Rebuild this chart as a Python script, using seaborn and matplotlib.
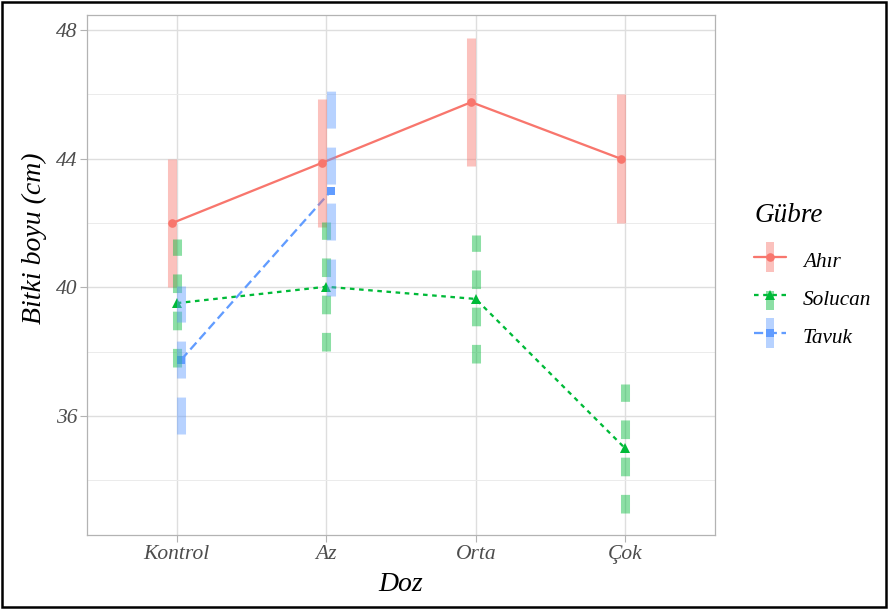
import numpy as np
import pandas as pd
import matplotlib
matplotlib.use("Agg")
import matplotlib.pyplot as plt
from matplotlib.lines import Line2D
from matplotlib.path import Path
from matplotlib.patches import Rectangle
from matplotlib.legend_handler import HandlerTuple
from matplotlib.colors import to_rgba
import seaborn as sns

# ---------------- data ----------------
doz = ["Kontrol", "Az", "Orta", "Çok"]
gubre = ["Ahır", "Solucan", "Tavuk"]

ahir_mean = [42.0, 43.87, 45.76, 44.0]
ahir_err = [2.0, 2.0, 2.0, 2.0]

solucan_mean = [39.51, 40.02, 39.64, 34.99]
solucan_err = [2.0, 2.0, 1.98, 2.0]

tavuk_doz = ["Kontrol", "Az"]
tavuk_mean = [37.75, 42.99]
tavuk_err = [2.3, 3.25]

y_ticks = [36, 40, 44, 48]
y_minor = [34, 38, 42, 46]

colors = ["#F8766D", "#00BA38", "#619CFF"]

# ---------------- table ----------------
rows = []
for d, m, e in zip(doz, ahir_mean, ahir_err):
    rows.append({"Doz": d, "Gübre": "Ahır", "Boy": m, "Hata": e})
for d, m, e in zip(doz, solucan_mean, solucan_err):
    rows.append({"Doz": d, "Gübre": "Solucan", "Boy": m, "Hata": e})
for d, m, e in zip(tavuk_doz, tavuk_mean, tavuk_err):
    rows.append({"Doz": d, "Gübre": "Tavuk", "Boy": m, "Hata": e})
df = pd.DataFrame(rows)

# ---------------- style ----------------
sns.set_theme(style="whitegrid")
plt.rcParams["font.family"] = ["Liberation Serif", "DejaVu Serif"]
plt.rcParams["font.style"] = "italic"
plt.rcParams["lines.scale_dashes"] = False

W, H = 889, 612
fig = plt.figure(figsize=(W / 100, H / 100), dpi=100, facecolor="white")
ax = fig.add_axes([87 / W, 1 - 535 / H, (715 - 87) / W, (535 - 15) / H])
ax.set_facecolor("white")

line_styles = ["-", (0, (3.3, 3.3)), (0, (6.6, 3.3))]
bar_styles = ["solid", (0, (13.4, 13.4)), (0, (26.6, 13.7))]
markers = ["o", "^", "s"]
marker_sizes = {"o": 6.2, "^": 7.6, "s": 5.8}
dodge = 0.06

sns.pointplot(data=df, x="Doz", y="Boy", hue="Gübre", order=doz,
              hue_order=gubre, palette=colors, markers=markers,
              linestyles=line_styles, dodge=dodge, errorbar=None,
              legend=False, ax=ax, linewidth=1.65, markersize=6,
              markeredgewidth=0)

for ln in ax.lines:
    mk = ln.get_marker()
    if mk in marker_sizes:
        ln.set_markersize(marker_sizes[mk])
    ln.set_zorder(2)

# error bars (drawn on top, translucent, with linetypes)
offsets = np.linspace(-dodge / 2, dodge / 2, len(gubre))
for i, g in enumerate(gubre):
    sub = df[df["Gübre"] == g]
    xs = [doz.index(d) + offsets[i] for d in sub["Doz"]]
    lo = (sub["Boy"] - sub["Hata"]).values
    hi = (sub["Boy"] + sub["Hata"]).values
    ax.vlines(xs, lo, hi, colors=[to_rgba(colors[i], 0.45)],
              linewidth=6.5, linestyles=bar_styles[i], zorder=3,
              capstyle="butt")

# ---------------- axes ----------------
ax.set_xlim(-0.6, 3.6)
ax.set_ylim(32.3, 48.47)
ax.set_yticks(y_ticks)
ax.set_yticks(y_minor, minor=True)
ax.set_axisbelow(True)
ax.xaxis.grid(True, color="#DEDEDE", linewidth=1.0)
ax.yaxis.grid(True, which="major", color="#DEDEDE", linewidth=1.0)
ax.yaxis.grid(True, which="minor", color="#EBEBEB", linewidth=0.7)
for s in ax.spines.values():
    s.set_color("#B3B3B3")
    s.set_linewidth(0.9)
ax.tick_params(axis="both", which="major", length=5, width=0.8,
               color="#B3B3B3", labelcolor="#4D4D4D", labelsize=15.5,
               pad=2, bottom=True, left=True)
ax.tick_params(axis="y", which="minor", length=0, left=False)

ax.set_xlabel("Doz", fontsize=20, color="black", va="top")
ax.xaxis.set_label_coords(0.5, -0.072)
ax.set_ylabel("Bitki boyu (cm)", fontsize=20, color="black")
ax.yaxis.set_label_coords(-0.063, 0.57)

# ---------------- legend ----------------
def bar_marker(top):
    w = 0.31
    verts = [(-w, -1), (w, -1), (w, top), (-w, top), (-w, -1)]
    return Path(verts, closed=True)

bar_tops = [1.0, 0.31, 1.0]
handles = []
for i, g in enumerate(gubre):
    ln = Line2D([], [], color=colors[i], linewidth=1.65,
                linestyle=line_styles[i], marker=markers[i],
                markersize=marker_sizes[markers[i]], markeredgewidth=0)
    br = Line2D([], [], linestyle="none", marker=bar_marker(bar_tops[i]),
                markersize=20.9, markerfacecolor=to_rgba(colors[i], 0.45),
                markeredgewidth=0)
    handles.append((ln, br))

leg = fig.legend(handles, gubre, loc="upper left",
                 bbox_to_anchor=(754 / W, 1 - 203 / H),
                 frameon=False, fontsize=15.3, title="Gübre",
                 title_fontsize=19.5, handlelength=1.5, handleheight=1.4,
                 handletextpad=0.8, labelspacing=0.63, borderpad=0,
                 borderaxespad=0, alignment="left", numpoints=1,
                 handler_map={tuple: HandlerTuple(ndivide=1, pad=0)})
leg._legend_box.sep = leg._legend_box.sep + 4.5
leg.get_title().set_color("black")
for t in leg.get_texts():
    t.set_color("black")

# outer frame
fig.patches.append(Rectangle((1.5 / W, 5 / H), (886 - 1.5) / W,
                             (1 - 1.5 / H) - 5 / H, transform=fig.transFigure,
                             fill=False, edgecolor="black", linewidth=1.8))

fig.savefig("out.png", dpi=100, facecolor="white")
